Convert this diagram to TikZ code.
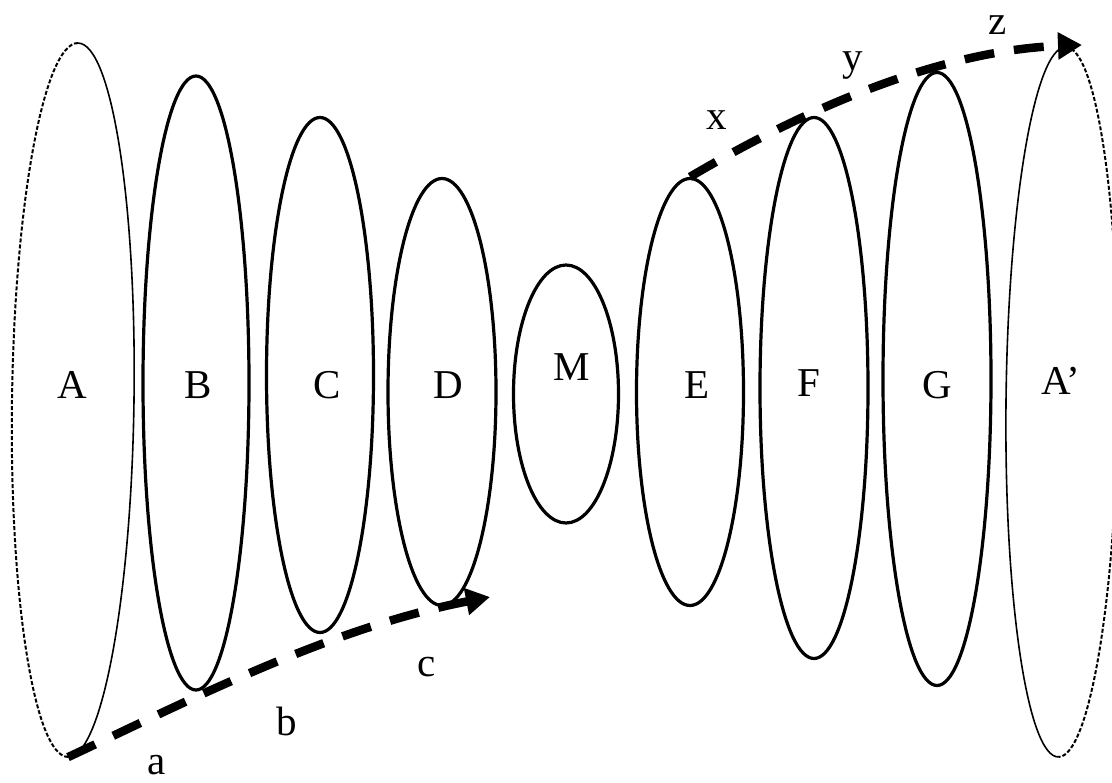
\documentclass[tikz,border=0pt]{standalone}
\usepackage{fontspec}
\setmainfont{Liberation Serif}
\usetikzlibrary{arrows.meta,shapes.geometric}
\begin{document}
\begin{tikzpicture}[x=1pt,y=-1pt,
  ring/.style={ellipse, draw, line width=3.2pt, inner sep=0pt},
  ghost/.style={ellipse, inner sep=0pt},
  lbl/.style={font=\fontsize{41}{48}\selectfont, inner sep=0pt},
  flow/.style={line width=8.5pt, dash pattern=on 30pt off 20pt, -{Triangle[length=24pt,width=26pt]}},
  thinrim/.style={line width=1.6pt},
  dotrim/.style={line width=2pt, dash pattern=on 4pt off 2pt}]
\useasboundingbox (0,0) rectangle (1112,783);
% outer half-dashed ellipses
\node[ghost, minimum width=122pt, minimum height=714pt, rotate=-0.8] (A) at (73,400) {};
\begin{scope}[shift={(73,400)}, rotate=-0.8]
  \draw[dotrim] (0,-357) arc[start angle=90, end angle=270, x radius=61pt, y radius=357pt];
  \draw[thinrim] (0,-357) arc[start angle=90, end angle=-90, x radius=61pt, y radius=357pt];
\end{scope}
\node[ghost, minimum width=112pt, minimum height=710pt, rotate=-0.6] (A2) at (1062,402) {};
\begin{scope}[shift={(1062,402)}, rotate=-0.6]
  \draw[thinrim] (0,-355) arc[start angle=90, end angle=270, x radius=56pt, y radius=355pt];
  \draw[dotrim] (0,-355) arc[start angle=90, end angle=-90, x radius=56pt, y radius=355pt];
\end{scope}
% inner ellipses
\node[ring, minimum width=106pt, minimum height=614pt] (B) at (196,383) {};
\node[ring, minimum width=107pt, minimum height=515pt] (C) at (320,375) {};
\node[ring, minimum width=108pt, minimum height=427pt] (D) at (442,392) {};
\node[ring, minimum width=105pt, minimum height=258pt] (M) at (566,394) {};
\node[ring, minimum width=107pt, minimum height=427pt] (E) at (690,392) {};
\node[ring, minimum width=108pt, minimum height=541pt] (F) at (814,388) {};
\node[ring, minimum width=108pt, minimum height=613pt] (G) at (937,379) {};
% labels
\node[lbl] (tA) at (72,385) {A};
\node[lbl] (tB) at (198,385) {B};
\node[lbl] (tC) at (327,385) {C};
\node[lbl] (tD) at (448,385) {D};
\node[lbl] (tM) at (572,367) {M};
\node[lbl] (tE) at (697,385) {E};
\node[lbl] (tF) at (809,383) {F};
\node[lbl] (tG) at (937,385) {G};
\node[lbl] (tA2) at (1061,381) {A’};
\node[lbl] (la) at (157,765) {a};
\node[lbl] (lb) at (287,721) {b};
\node[lbl] (lc) at (427,667) {c};
\node[lbl] (lx) at (717,120) {x};
\node[lbl] (ly) at (853,66) {y};
\node[lbl] (lz) at (998,25) {z};
% arrows
\coordinate (cEnd) at (490,597);
\coordinate (zEnd) at (1082,45);
\draw[flow] (A.south) .. controls (190,700) and (330,628) .. (cEnd);
\draw[flow] (E.north) .. controls (820,100) and (950,50) .. (zEnd);
\end{tikzpicture}
\end{document}
